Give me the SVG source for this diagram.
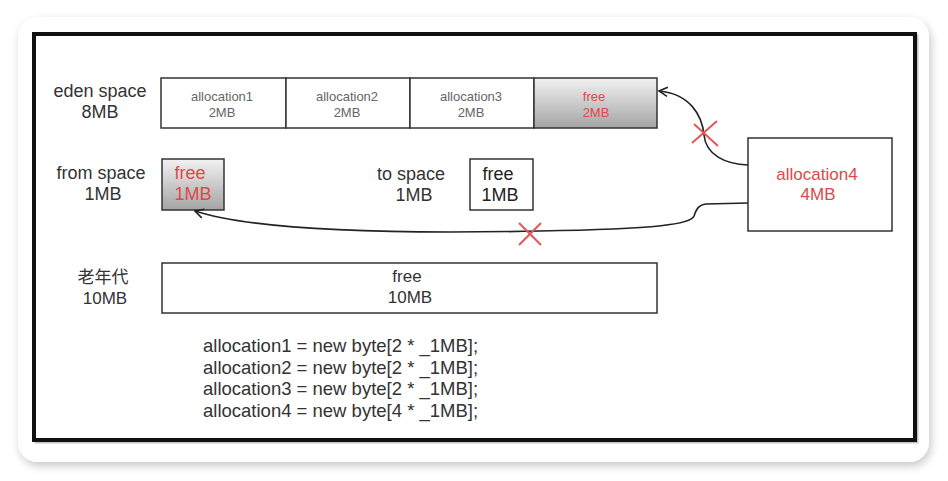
<svg xmlns="http://www.w3.org/2000/svg" width="948" height="481" viewBox="0 0 948 481">
<defs>
<linearGradient id="gFree" x1="0" y1="0" x2="0" y2="1">
<stop offset="0" stop-color="#f2f2f2"/>
<stop offset="1" stop-color="#a4a4a4"/>
</linearGradient>
<filter id="cardShadow" x="-5%" y="-5%" width="110%" height="115%">
<feGaussianBlur in="SourceAlpha" stdDeviation="5"/>
<feOffset dx="2" dy="4" result="b"/>
<feComponentTransfer><feFuncA type="linear" slope="0.22"/></feComponentTransfer>
<feMerge><feMergeNode/><feMergeNode in="SourceGraphic"/></feMerge>
</filter>
<marker id="arr" viewBox="0 0 12 12" refX="10.5" refY="6" markerWidth="12" markerHeight="12" markerUnits="userSpaceOnUse" orient="auto">
<path d="M2,1.5 L10.5,6 L2,10.5" fill="none" stroke="#222" stroke-width="1.6"/>
</marker>
<style>
.lbl{font-family:"Liberation Sans",Arial,sans-serif;font-size:18px;fill:#333;text-anchor:middle}
.cell{font-family:"Liberation Sans",Arial,sans-serif;font-size:13px;fill:#666;text-anchor:middle}
.red{fill:#e04848}
.box{fill:#fff;stroke:#333;stroke-width:1.5}
.gbox{fill:url(#gFree);stroke:#333;stroke-width:1.5}
.conn{fill:none;stroke:#222;stroke-width:1.6}
.xmark{stroke:#e05858;stroke-width:2;fill:none}
.code{font-family:"Liberation Sans",Arial,sans-serif;font-size:18.5px;fill:#333}
</style>
</defs>
<rect x="0" y="0" width="948" height="481" fill="#ffffff"/>
<rect x="18" y="17" width="911" height="445" rx="20" fill="#ffffff" filter="url(#cardShadow)"/>
<rect x="36" y="36" width="881" height="406" fill="none" stroke="#999" stroke-width="3" opacity="0.6"/>
<rect x="34" y="34" width="881" height="406" fill="#ffffff" stroke="#111" stroke-width="4"/>

<g id="eden">
<text class="lbl" x="100" y="97">eden space</text>
<text class="lbl" x="100" y="118">8MB</text>
<rect class="box" x="161" y="78" width="125" height="50"/>
<rect class="box" x="286" y="78" width="124" height="50"/>
<rect class="box" x="410" y="78" width="124" height="50"/>
<rect class="gbox" x="534" y="78" width="123" height="50"/>
<text class="cell" x="222" y="101">allocation1</text>
<text class="cell" x="222" y="117">2MB</text>
<text class="cell" x="347" y="101">allocation2</text>
<text class="cell" x="347" y="117">2MB</text>
<text class="cell" x="471" y="101">allocation3</text>
<text class="cell" x="471" y="117">2MB</text>
<text class="cell red" x="594" y="101">free</text>
<text class="cell red" x="596" y="117">2MB</text>
</g>

<g id="from-space">
<text class="lbl" x="101" y="179">from space</text>
<text class="lbl" x="103" y="200">1MB</text>
<rect class="gbox" x="162" y="159" width="62" height="51"/>
<text class="lbl red" x="190" y="179">free</text>
<text class="lbl red" x="193" y="200">1MB</text>
</g>

<g id="to-space">
<text class="lbl" x="411" y="180">to space</text>
<text class="lbl" x="414" y="201">1MB</text>
<rect class="box" x="470" y="159" width="63" height="51"/>
<text class="lbl" x="498" y="180" style="fill:#222">free</text>
<text class="lbl" x="500" y="201" style="fill:#222">1MB</text>
</g>

<g id="allocation4">
<rect class="box" x="748" y="138" width="144" height="93"/>
<text class="lbl red" x="817" y="180" style="font-size:17px">allocation4</text>
<text class="lbl red" x="818" y="200" style="font-size:17px">4MB</text>
</g>

<g id="old-gen">
<text class="lbl" x="103" y="283" style="font-family:'Liberation Sans','Noto Sans CJK SC',sans-serif;font-size:17px">老年代</text>
<text class="lbl" x="105" y="304" style="font-size:17px">10MB</text>
<rect class="box" x="162" y="263" width="495" height="50"/>
<text class="lbl" x="407" y="282" style="font-size:17px">free</text>
<text class="lbl" x="410" y="303" style="font-size:17px">10MB</text>
</g>

<g id="connectors">
<path class="conn" d="M748,165 C725,164 706,155 704,135 C702,115 690,94 659,91" marker-end="url(#arr)"/>
<path class="conn" d="M748,203 L706,204 C698,205 696,210 694,216 C691,224 660,229 540,231 C400,234 260,232 195,211" marker-end="url(#arr)"/>
<path class="xmark" d="M692,143 L717,121 M694,124 L718,146"/>
<path class="xmark" d="M519,223 L541,245 M519,245 L541,223"/>
</g>

<g id="code">
<text class="code" x="203" y="352">allocation1 = new byte[2 * _1MB];</text>
<text class="code" x="203" y="374">allocation2 = new byte[2 * _1MB];</text>
<text class="code" x="203" y="395">allocation3 = new byte[2 * _1MB];</text>
<text class="code" x="203" y="417">allocation4 = new byte[4 * _1MB];</text>
</g>
</svg>
